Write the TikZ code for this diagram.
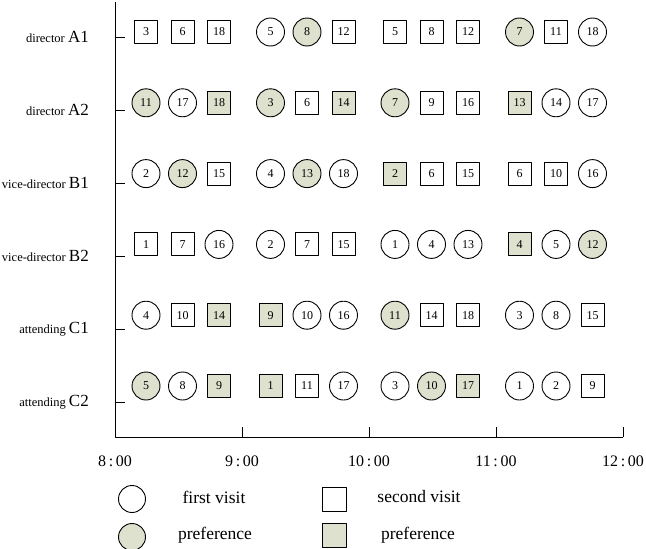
\documentclass[tikz,border=0pt]{standalone}
\usepackage{fontspec}
\setmainfont{Liberation Serif}
\definecolor{prefgreen}{RGB}{221,225,205}
\begin{document}
\begin{tikzpicture}[x=1pt, y=-1pt, line join=round,
	visc/.style={circle, draw, line width=.9pt, minimum size=28pt, inner sep=0pt, font=\fontsize{12}{12}\selectfont},
	viss/.style={rectangle, draw, line width=.9pt, minimum size=23pt, inner sep=0pt, font=\fontsize{12}{12}\selectfont},
	pref0/.style={fill=white},
	pref1/.style={fill=prefgreen},
	rowlab/.style={anchor=east, inner sep=0pt, font=\fontsize{12.5}{12.5}\selectfont},
	timelab/.style={font=\fontsize{16}{16}\selectfont},
	legtext/.style={font=\fontsize{17.5}{17.5}\selectfont}]
	\useasboundingbox (0,0) rectangle (646,549);
	\path
	(115,2) coordinate (top)
	(115,437) coordinate (O)
	(623,437) coordinate (end)
	;
	% axes
	\draw[line width=1pt] (top)--(O)--(end);
	\foreach \h [count=\k] in {8,9,10,11,12} {
		\path (115+127*\k-127,437) coordinate (t\k);
		\node[timelab] (time\k) at (115+127*\k-127,461) {\h\,:\,00};
	}
	\foreach \k in {2,3,4,5} \draw[line width=1pt] (t\k)--++(0,-10);
	% rows of visits
	\foreach \r/\lab/\code/\items in {
		1/director/A1/{s/0/3,s/0/6,s/0/18,c/0/5,c/1/8,s/0/12,s/0/5,s/0/8,s/0/12,c/1/7,s/0/11,c/0/18},
		2/director/A2/{c/1/11,c/0/17,s/1/18,c/1/3,s/0/6,s/1/14,c/1/7,s/0/9,s/0/16,s/1/13,c/0/14,c/0/17},
		3/vice-director/B1/{c/0/2,c/1/12,s/0/15,c/0/4,c/1/13,c/0/18,s/1/2,s/0/6,s/0/15,s/0/6,s/0/10,c/0/16},
		4/vice-director/B2/{s/0/1,s/0/7,c/0/16,c/0/2,s/0/7,s/0/15,c/0/1,c/0/4,c/0/13,s/1/4,c/0/5,c/1/12},
		5/attending/C1/{c/0/4,s/0/10,s/1/14,s/1/9,c/0/10,c/0/16,c/1/11,s/0/14,s/0/18,c/0/3,c/0/8,s/0/15},
		6/attending/C2/{c/1/5,c/0/8,s/1/9,s/1/1,s/0/11,c/0/17,c/0/3,c/1/10,s/1/17,c/0/1,c/0/2,s/0/9}} {
		\path (115,37+73*\r-73) coordinate (y\r);
		\draw[line width=1pt] (y\r)--++(10,0);
		\node[rowlab] (lab\r) at (89,37+73*\r-73) {\lab\ {\fontsize{17}{17}\selectfont\code}};
		\foreach \t/\f/\n [count=\c] in \items {
			\pgfmathsetmacro\g{int((\c-1)/3)}
			\pgfmathsetmacro\p{int(mod(\c-1,3))}
			\node[vis\t, pref\f] (v\r-\c) at (146+124.5*\g+36.5*\p, 32+70.8*\r-70.8) {\n};
		}
	}
	% legend
	\node[visc, pref0, minimum size=27pt] (lc1) at (132,499) {};
	\node[visc, pref1, minimum size=27pt] (lc2) at (132,537) {};
	\node[viss, pref0, minimum size=24pt] (ls1) at (334,499) {};
	\node[viss, pref1, minimum size=24pt] (ls2) at (334,535) {};
	\node[legtext] (lt1) at (214,497) {first visit};
	\node[legtext] (lt2) at (215,535) {preference};
	\node[legtext] (lt3) at (419,497) {second visit};
	\node[legtext] (lt4) at (418,535) {preference};
\end{tikzpicture}
\end{document}
